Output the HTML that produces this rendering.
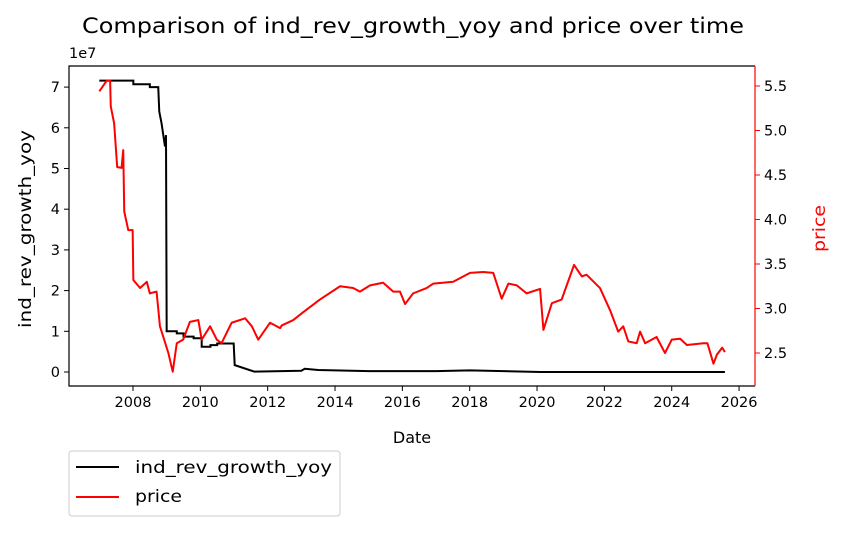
<!DOCTYPE html>
<html><head><meta charset="utf-8"><style>
body{margin:0;background:#fff;}
svg text{font-family:"DejaVu Sans","Liberation Sans",sans-serif;}
</style></head><body>
<svg id="chart" width="842" height="530" xmlns="http://www.w3.org/2000/svg">
<text x="82" y="33" font-size="21" textLength="662" lengthAdjust="spacingAndGlyphs">Comparison of ind_rev_growth_yoy and price over time</text>
<text x="69" y="58" font-size="14.5">1e7</text>
<g id="plot"></g>
<text x="412" y="443" font-size="16" text-anchor="middle">Date</text>
<text transform="translate(31,328) rotate(-90)" font-size="17" textLength="198" lengthAdjust="spacingAndGlyphs">ind_rev_growth_yoy</text>
<text transform="translate(825,252) rotate(-90)" font-size="17" fill="#ff0000" textLength="47" lengthAdjust="spacingAndGlyphs">price</text>
<g>
<rect x="69" y="451" width="271" height="65" rx="3" fill="#fff" stroke="#ccc"/>
<line x1="76" y1="467" x2="119" y2="467" stroke="#000" stroke-width="2"/>
<text x="135" y="473" font-size="17" textLength="197" lengthAdjust="spacingAndGlyphs">ind_rev_growth_yoy</text>
<line x1="76" y1="497" x2="119" y2="497" stroke="#ff0000" stroke-width="2"/>
<text x="135" y="502" font-size="17" textLength="47" lengthAdjust="spacingAndGlyphs">price</text>
</g>
</svg>
<script>
const xTicks=[2008,2010,2012,2014,2016,2018,2020,2022,2024,2026];
const leftTicks=[0,1,2,3,4,5,6,7];
const rightTicks=[2.5,3.0,3.5,4.0,4.5,5.0,5.5];
const priceDates=[2007.0,2007.22,2007.32,2007.34,2007.44,2007.53,2007.66,2007.71,2007.74,2007.86,2007.99,2008.01,2008.21,2008.41,2008.5,2008.7,2008.8,2008.9,2009.05,2009.18,2009.3,2009.49,2009.69,2009.94,2010.04,2010.29,2010.49,2010.63,2010.93,2011.33,2011.53,2011.72,2012.07,2012.37,2012.42,2012.76,2013.06,2013.55,2014.15,2014.54,2014.74,2015.04,2015.43,2015.73,2015.93,2016.08,2016.32,2016.72,2016.92,2017.51,2018.01,2018.4,2018.7,2018.95,2019.15,2019.4,2019.69,2020.09,2020.19,2020.44,2020.73,2021.1,2021.33,2021.47,2021.87,2022.17,2022.41,2022.56,2022.71,2022.96,2023.06,2023.21,2023.55,2023.8,2024.0,2024.25,2024.45,2024.94,2025.06,2025.24,2025.34,2025.5,2025.58];
const priceValues=[5.44,5.56,5.56,5.27,5.08,4.59,4.58,4.78,4.09,3.88,3.88,3.32,3.23,3.30,3.17,3.19,2.80,2.68,2.50,2.29,2.61,2.65,2.85,2.87,2.65,2.80,2.65,2.61,2.84,2.89,2.80,2.65,2.84,2.78,2.81,2.87,2.96,3.10,3.25,3.23,3.19,3.26,3.29,3.19,3.19,3.05,3.17,3.23,3.28,3.30,3.40,3.41,3.40,3.11,3.28,3.26,3.17,3.22,2.76,3.06,3.10,3.49,3.36,3.38,3.23,2.98,2.74,2.80,2.63,2.61,2.74,2.61,2.68,2.50,2.65,2.66,2.59,2.61,2.61,2.38,2.48,2.56,2.51];
const growthDates=[2007.0,2008.01,2008.01,2008.5,2008.5,2008.75,2008.78,2008.85,2008.95,2008.98,2009.0,2009.3,2009.3,2009.5,2009.5,2009.8,2009.8,2010.04,2010.04,2010.3,2010.3,2010.5,2010.5,2010.99,2011.02,2011.6,2013.0,2013.1,2013.5,2015.0,2017.0,2018.0,2020.1,2025.58];
const growthValues=[7.16,7.16,7.07,7.07,7.0,7.0,6.4,6.1,5.54,5.82,1.0,1.0,0.95,0.95,0.87,0.87,0.83,0.83,0.62,0.62,0.66,0.66,0.70,0.70,0.17,0.01,0.03,0.08,0.05,0.02,0.02,0.04,0.0,0.0];

const L=69,R=755,T=66,B=386;
const x=d=>133+(d-2008)*33.67;
const yl=v=>372-v*40.7;
const yr=v=>353-(v-2.5)*89;
const NS="http://www.w3.org/2000/svg";
const g=document.getElementById('plot');
function mk(tag,attrs){const e=document.createElementNS(NS,tag);for(const k in attrs)e.setAttribute(k,attrs[k]);g.appendChild(e);return e;}

xTicks.forEach(t=>{
  const l=mk('line',{x1:x(t),x2:x(t),y1:B,y2:B+5,stroke:'#000'});
  
  
  const s=mk('text',{x:x(t),y:B+21,'font-size':14.5,'text-anchor':'middle'});s.textContent=t;
  
  
});
leftTicks.forEach(t=>{
  const l=mk('line',{x1:L-5,x2:L,y1:yl(t),y2:yl(t),stroke:'#000'});
  
  
  const s=mk('text',{x:L-9,y:yl(t)+5,'font-size':14.5,'text-anchor':'end'});s.textContent=t;
  
  
});
rightTicks.forEach(t=>{
  const l=mk('line',{x1:R,x2:R+5,y1:yr(t),y2:yr(t),stroke:'#ff0000'});
  
  
  const s=mk('text',{x:R+9,y:yr(t)+5,'font-size':14.5});s.textContent=t.toFixed(1);
  
  
});
const gp=mk('polyline',{points:growthDates.map((d,i)=>x(d)+','+yl(growthValues[i])).join(' '),fill:'none',stroke:'#000','stroke-width':2});


const pp=mk('polyline',{points:priceDates.map((d,i)=>x(d)+','+yr(priceValues[i])).join(' '),fill:'none',stroke:'#ff0000','stroke-width':2,'stroke-linejoin':'round'});


const fr=mk('path',{d:`M${R},${T}H${L}V${B}H${R}`,fill:'none',stroke:'#000','stroke-width':1.2});


const rs=mk('line',{x1:R,x2:R,y1:T,y2:B,stroke:'#ff0000','stroke-width':1.2});


</script>
</body></html>
